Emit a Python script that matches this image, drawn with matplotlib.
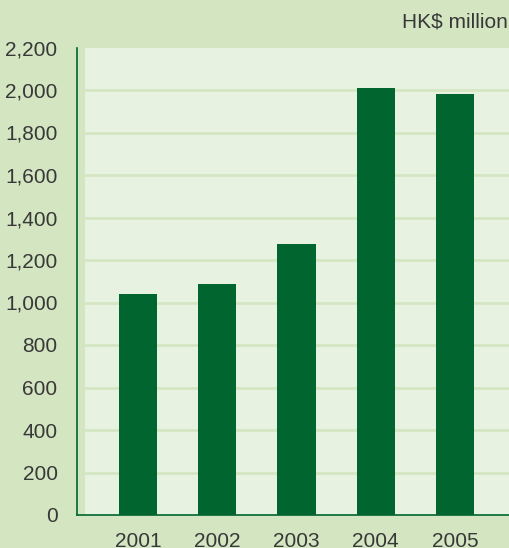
import matplotlib
matplotlib.use('Agg')
import matplotlib.pyplot as plt
from matplotlib.patches import Rectangle

years = ['2001', '2002', '2003', '2004', '2005']
values = [1040, 1087, 1275, 2009, 1981]
y_ticks = list(range(0, 2201, 200))
y_tick_labels = ['{:,}'.format(v) for v in y_ticks]

bg_colour = '#d3e6c1'
plot_colour = '#e8f2e1'
bar_colour = '#00652f'
text_colour = '#383838'

plt.rcParams['font.family'] = ['Liberation Sans', 'DejaVu Sans']

fig = plt.figure(figsize=(5.1, 5.48), dpi=100)
fig.patch.set_facecolor(bg_colour)
ax = fig.add_axes([77 / 510, 1 - 515 / 548, 1 - 77 / 510, (515 - 47.5) / 548])
ax.set_facecolor(bg_colour)

x_pos = list(range(len(years)))
x_left = -(138 - 77) / 79
x_right = 4 + (510 - 455) / 79
ax.set_xlim(x_left, x_right)
ax.set_ylim(0, 2200)

# light plot area, starting a little right of the axis line
plot_left = -(138 - 85) / 79
ax.add_patch(Rectangle((plot_left, 0), x_right - plot_left, 2200,
                       facecolor=plot_colour, edgecolor='none', zorder=0))
for v in y_ticks[1:-1]:
    ax.plot([plot_left, x_right], [v, v], color=bg_colour, lw=2, zorder=1)

ax.bar(x_pos, values, width=38 / 79, color=bar_colour, zorder=2)

for side in ['top', 'right']:
    ax.spines[side].set_visible(False)
for side in ['left', 'bottom']:
    ax.spines[side].set_color(bar_colour)
    ax.spines[side].set_linewidth(1.2)

ax.set_yticks(y_ticks)
ax.set_yticklabels(y_tick_labels)
ax.set_xticks(x_pos)
ax.set_xticklabels(years)
ax.tick_params(axis='y', length=0, pad=14, labelsize=15, labelcolor=text_colour)
ax.tick_params(axis='x', length=0, pad=12, labelsize=15, labelcolor=text_colour)

fig.text(508 / 510, 1 - 22 / 548, 'HK$ million', ha='right', va='center',
         fontsize=15, color=text_colour)

fig.savefig('out.png', dpi=100, facecolor=bg_colour)
